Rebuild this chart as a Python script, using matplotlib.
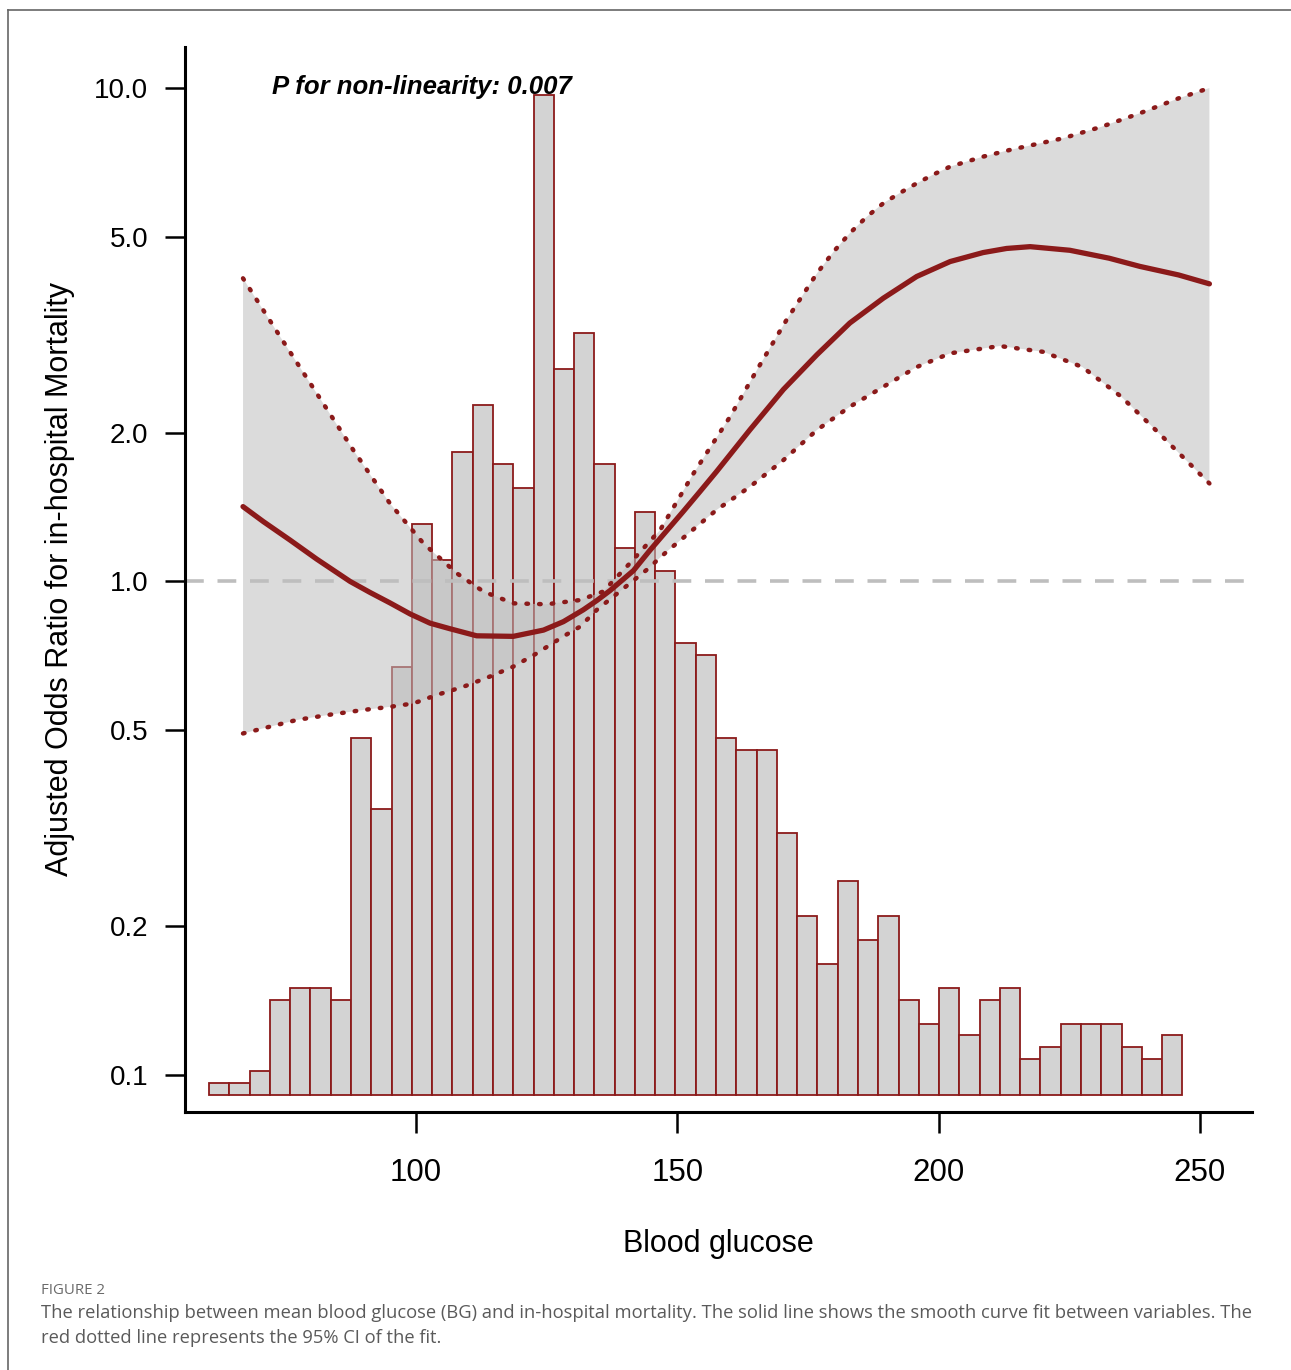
import numpy as np
import matplotlib.pyplot as plt
from matplotlib.ticker import NullLocator
from matplotlib.lines import Line2D

# histogram of blood glucose (counts per bin)
hist_start = 60.4
hist_bin = 3.88
hist_counts = [1, 1, 2, 8, 9, 9, 8, 30, 24, 36, 48, 45, 54, 58, 53, 51,
               84, 61, 64, 53, 46, 49, 44, 38, 37, 30, 29, 29, 22, 15, 11, 18,
               13, 15, 8, 6, 9, 5, 8, 9, 3, 4, 6, 6, 6, 4, 3, 5]

# smooth curve fit (adjusted OR)
fit_x = [66.9, 70.8, 75.9, 81.0, 87.4, 91.2, 95.0, 98.9, 102.7, 106.5,
         111.6, 118.6, 124.4, 128.2, 132.0, 134.6, 137.1, 141.6, 144.8, 151.1,
         154.3, 157.5, 163.9, 170.3, 176.7, 183.0, 189.4, 195.8, 202.2, 208.5,
         213.0, 217.5, 225.1, 232.6, 238.5, 245.9, 251.8]
fit_y = [1.418, 1.322, 1.213, 1.11, 1.0, 0.95, 0.905, 0.859, 0.823, 0.802,
         0.776, 0.774, 0.797, 0.829, 0.876, 0.915, 0.958, 1.052, 1.158, 1.385,
         1.52, 1.67, 2.03, 2.45, 2.88, 3.34, 3.75, 4.15, 4.45, 4.64,
         4.73, 4.77, 4.69, 4.52, 4.35, 4.18, 4.01]

# 95% CI upper
upper_x = [66.9, 74.0, 81.0, 88.0, 95.0, 101.4, 107.8, 112.9, 118.6, 125.0,
           131.4, 135.8, 140.9, 144.1, 146.7, 153.1, 160.1, 165.2, 170.9, 176.7,
           179.9, 183.0, 186.2, 189.4, 192.6, 195.8, 199.0, 202.2, 208.5, 213.6,
           223.8, 231.2, 238.5, 245.9, 251.8]
upper_y = [4.115, 3.135, 2.406, 1.846, 1.440, 1.195, 1.039, 0.954, 0.903, 0.899,
           0.917, 0.954, 1.088, 1.186, 1.271, 1.656, 2.158, 2.68, 3.39, 4.21,
           4.66, 5.08, 5.48, 5.84, 6.13, 6.41, 6.68, 6.93, 7.26, 7.49,
           7.91, 8.35, 8.89, 9.53, 10.0]

# 95% CI lower
lower_x = [66.9, 72.1, 77.2, 83.5, 89.9, 95.0, 99.5, 104.0, 109.1, 114.2,
           118.6, 123.1, 128.2, 131.4, 134.6, 144.1, 148.0, 157.5, 163.9, 170.3,
           176.7, 183.0, 189.4, 195.8, 202.2, 211.7, 220.0, 227.5, 234.9, 242.2,
           251.8]
lower_y = [0.492, 0.508, 0.524, 0.537, 0.549, 0.557, 0.566, 0.589, 0.612, 0.642,
           0.672, 0.715, 0.774, 0.81, 0.876, 1.055, 1.15, 1.396, 1.556, 1.762,
           2.027, 2.26, 2.48, 2.72, 2.90, 3.00, 2.92, 2.72, 2.37, 1.995,
           1.58]

y_ticks = [0.1, 0.2, 0.5, 1.0, 2.0, 5.0, 10.0]
y_ticklabels = ["0.1", "0.2", "0.5", "1.0", "2.0", "5.0", "10.0"]
x_ticks = [100, 150, 200, 250]

red = "#8B1A1A"
W, H = 1291, 1370
fig = plt.figure(figsize=(W / 100, H / 100), dpi=100)

rect = [185 / W, 1 - 1112 / H, (1252 - 185) / W, (1112 - 47) / H]
xlim = (55.8, 259.95)

# histogram in the background
ax_h = fig.add_axes(rect)
edges = hist_start + hist_bin * np.arange(len(hist_counts))
ax_h.bar(edges, hist_counts, width=hist_bin, align="edge",
         color="#D3D3D3", edgecolor=red, linewidth=1.3)
ax_h.set_xlim(*xlim)
ax_h.set_ylim(-1.43, 88.07)
ax_h.axis("off")

# main axis (log OR)
ax = fig.add_axes(rect)
ax.patch.set_alpha(0)
ax.set_yscale("log")
ax.set_xlim(*xlim)
ax.set_ylim(0.0841, 12.11)

band_x = np.r_[upper_x, lower_x[::-1]]
band_y = np.r_[upper_y, lower_y[::-1]]
ax.fill(band_x, band_y, color="#BFBFBF", alpha=0.55, lw=0, zorder=1)
ax.axhline(1.0, color="#BEBEBE", lw=2.6, ls=(0, (5.2, 3.8)), zorder=1.5)

dots = (0, (0.35, 2.5))
ax.plot(upper_x, upper_y, color=red, lw=3.2, ls=dots,
        dash_capstyle="round", zorder=3)
ax.plot(lower_x, lower_y, color=red, lw=3.2, ls=dots,
        dash_capstyle="round", zorder=3)
ax.plot(fit_x, fit_y, color=red, lw=3.8, solid_capstyle="round",
        solid_joinstyle="round", zorder=4)

for s in ["top", "right"]:
    ax.spines[s].set_visible(False)
for s in ["left", "bottom"]:
    ax.spines[s].set_linewidth(2.2)

ax.yaxis.set_minor_locator(NullLocator())
ax.set_yticks(y_ticks)
ax.set_yticklabels(y_ticklabels)
ax.set_xticks(x_ticks)
ax.tick_params(axis="y", length=14.4, width=1.8, pad=12, labelsize=20)
ax.tick_params(axis="x", length=15, width=1.8, pad=18, labelsize=22.5)
for lab in ax.get_yticklabels() + ax.get_xticklabels():
    lab.set_family(["Liberation Sans", "DejaVu Sans"])

ax.set_xlabel("Blood glucose", fontsize=22,
              family=["Liberation Sans", "DejaVu Sans"])
ax.xaxis.set_label_coords(0.5, (1112 - 1229) / (1112 - 47))
ax.set_ylabel("Adjusted Odds Ratio for in-hospital Mortality", fontsize=22,
              family=["Liberation Sans", "DejaVu Sans"])
ax.yaxis.set_label_coords((75 - 185) / (1252 - 185), 0.5)

ax.text((272 - 185) / (1252 - 185), (1112 - 87) / (1112 - 47),
        "P for non-linearity: 0.007", transform=ax.transAxes,
        fontsize=18.5, fontweight="bold", fontstyle="italic",
        family=["Liberation Sans", "DejaVu Sans"], va="center", ha="left")

# page frame and caption
fig.add_artist(Line2D([8 / W, 8 / W], [0, 1 - 10 / H], color="#666666", lw=1.2))
fig.add_artist(Line2D([8 / W, 1], [1 - 10 / H, 1 - 10 / H], color="#666666", lw=1.2))

cap_font = ["Open Sans", "DejaVu Sans"]
fig.text(41 / W, 1 - 1291 / H, "FIGURE 2", fontsize=10.8, color="#6a6a6a",
         family=cap_font, va="center", ha="left")
fig.text(41 / W, 1 - 1313 / H,
         "The relationship between mean blood glucose (BG) and in-hospital mortality. "
         "The solid line shows the smooth curve fit between variables. The",
         fontsize=13.2, color="#5a5a5a", family=cap_font, va="center", ha="left")
fig.text(41 / W, 1 - 1338 / H,
         "red dotted line represents the 95% CI of the fit.",
         fontsize=13.2, color="#5a5a5a", family=cap_font, va="center", ha="left")

fig.savefig("out.png", dpi=100)
